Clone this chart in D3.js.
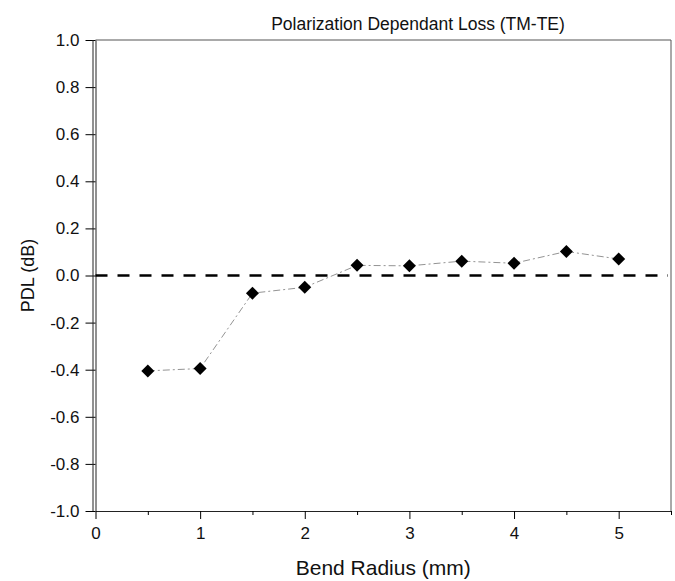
<!DOCTYPE html>
<html>
<head>
<meta charset="utf-8">
<script src="https://cdn.jsdelivr.net/npm/d3@7"></script>
<style>
  body { margin: 0; background: #fff; }
  text { font-family: "Liberation Sans", Arial, sans-serif; fill: #111; }
</style>
</head>
<body>
<div id="container"></div>
<script>
// data
const bendRadius = [0.5, 1.0, 1.5, 2.0, 2.5, 3.0, 3.5, 4.0, 4.5, 5.0];
const pdl = [-0.405, -0.395, -0.075, -0.05, 0.043, 0.041, 0.061, 0.052, 0.102, 0.07];
const xTicks = [0, 1, 2, 3, 4, 5];
const xMinorTicks = [0.5, 1.5, 2.5, 3.5, 4.5, 5.5];
const yTicks = [-1.0, -0.8, -0.6, -0.4, -0.2, 0.0, 0.2, 0.4, 0.6, 0.8, 1.0];

const width = 675, height = 581;
const margin = {top: 40, right: 4, bottom: 70, left: 95.5};

const svg = d3.select("#container").append("svg")
    .attr("width", width)
    .attr("height", height);

const x = d3.scaleLinear().domain([0, 5.5]).range([margin.left, width - margin.right]);
const y = d3.scaleLinear().domain([-1, 1]).range([height - margin.bottom, margin.top]);

// plain hyphen instead of d3's unicode minus
const fmtY = d => d.toFixed(1);

// frame top / right
svg.append("path")
    .attr("d", `M${x(0)},${y(1)}H${x(5.5)}V${y(-1)}`)
    .attr("fill", "none")
    .attr("stroke", "#555")
    .attr("stroke-width", 1);

// y axis (double line like the original)
const yAxis = svg.append("g")
    .attr("transform", `translate(${x(0)},0)`)
    .call(d3.axisLeft(y).tickValues(yTicks).tickFormat(fmtY).tickSize(10).tickPadding(6).tickSizeOuter(0));
yAxis.select(".domain").attr("stroke", "#222");
yAxis.selectAll("text").attr("font-size", 17).attr("font-family", "Liberation Sans, Arial, sans-serif");
svg.append("line")
    .attr("x1", x(0) - 2.5).attr("x2", x(0) - 2.5)
    .attr("y1", y(1)).attr("y2", y(-1))
    .attr("stroke", "#222");

// x axis
const xAxis = svg.append("g")
    .attr("transform", `translate(0,${y(-1)})`)
    .call(d3.axisBottom(x).tickValues(xTicks).tickFormat(d3.format("d")).tickSize(8).tickPadding(8).tickSizeOuter(0));
xAxis.select(".domain").attr("stroke", "#222");
xAxis.selectAll("text").attr("font-size", 17).attr("font-family", "Liberation Sans, Arial, sans-serif");
svg.append("g")
    .attr("transform", `translate(0,${y(-1)})`)
    .call(d3.axisBottom(x).tickValues(xMinorTicks).tickFormat("").tickSize(4).tickSizeOuter(0))
    .call(g => g.select(".domain").remove());

// zero reference
svg.append("line")
    .attr("x1", x(0)).attr("x2", x(5.5) - 3)
    .attr("y1", y(0)).attr("y2", y(0))
    .attr("stroke", "#000")
    .attr("stroke-width", 2.6)
    .attr("stroke-dasharray", "12,10");

// connecting line
const line = d3.line()
    .x((d, i) => x(bendRadius[i]))
    .y(d => y(d));
svg.append("path")
    .datum(pdl)
    .attr("d", line)
    .attr("fill", "none")
    .attr("stroke", "#777")
    .attr("stroke-width", 0.8)
    .attr("stroke-dasharray", "7,3,2,3");

// diamonds
svg.selectAll(".pt")
    .data(pdl)
    .join("path")
    .attr("class", "pt")
    .attr("transform", (d, i) => `translate(${x(bendRadius[i])},${y(d)})`)
    .attr("d", "M0,-6.5L6.5,0L0,6.5L-6.5,0Z")
    .attr("fill", "#000");

// titles
svg.append("text")
    .attr("x", 418)
    .attr("y", 30)
    .attr("text-anchor", "middle")
    .attr("font-size", 17.5)
    .text("Polarization Dependant Loss (TM-TE)");

svg.append("text")
    .attr("x", (x(0) + x(5.5)) / 2)
    .attr("y", 575)
    .attr("text-anchor", "middle")
    .attr("font-size", 21)
    .text("Bend Radius (mm)");

svg.append("text")
    .attr("transform", `translate(34,${y(0)}) rotate(-90)`)
    .attr("text-anchor", "middle")
    .attr("font-size", 18)
    .text("PDL (dB)");
</script>
</body>
</html>
